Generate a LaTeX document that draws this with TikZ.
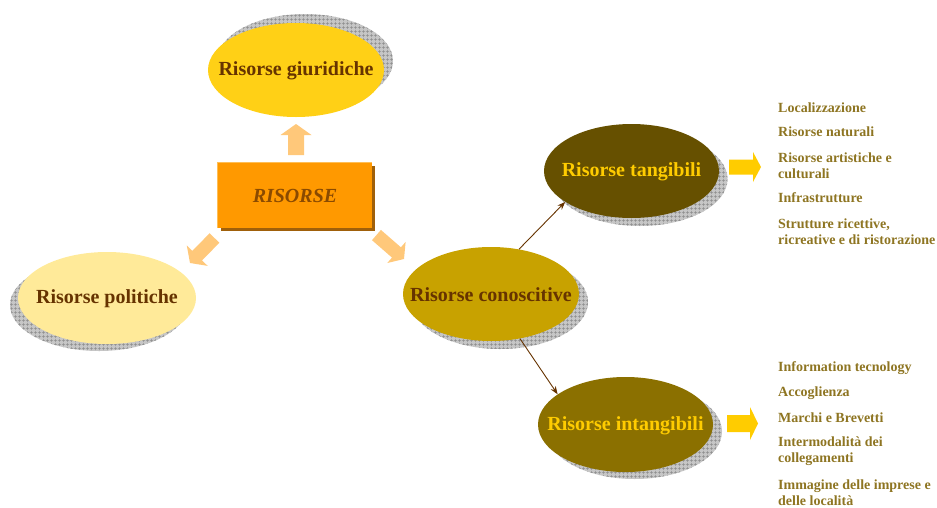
\documentclass[tikz,border=0pt]{standalone}
\usepackage{fontspec}
\setmainfont{Liberation Serif}
\usetikzlibrary{shapes.geometric,patterns.meta,arrows.meta}
\definecolor{giuF}{HTML}{FFD016}
\definecolor{polF}{HTML}{FFEA99}
\definecolor{conF}{HTML}{C8A200}
\definecolor{tanF}{HTML}{665000}
\definecolor{intF}{HTML}{8B7000}
\definecolor{orF}{HTML}{FF9900}
\definecolor{orShadow}{HTML}{A0600A}
\definecolor{orHL}{HTML}{FFBE55}
\definecolor{arrLight}{HTML}{FFC87A}
\definecolor{yel}{HTML}{FFCC00}
\definecolor{txtBrown}{HTML}{663300}
\definecolor{risTxt}{HTML}{8A4A00}
\definecolor{listTxt}{HTML}{8E7522}
\definecolor{shGray}{HTML}{C6C6C6}
\definecolor{gridGray}{HTML}{8C8C8C}
\begin{document}
\begin{tikzpicture}[x=1pt,y=-1pt,
  shad/.style={fill=shGray,postaction={pattern={Hatch[angle=0,distance=4pt,line width=0.6pt]},pattern color=gridGray}},
  ell/.style={ellipse,inner sep=0pt,minimum width=176pt,minimum height=94pt},
  elltxt/.style={font=\bfseries\fontsize{20}{22}\selectfont,inner sep=0pt},
  listitem/.style={anchor=west,inner sep=0pt,align=left,text=listTxt,
    font=\bfseries\fontsize{14}{16}\selectfont},
  conn/.style={draw=txtBrown,line width=0.9pt,-{Stealth[length=8pt,width=6pt]}},
  pics/barrow/.style n args={5}{code={
    \fill[#5] (0,0) -- (-#2,#3) -- (-#2,#4) -- (-#1,#4) -- (-#1,-#4) -- (-#2,-#4) -- (-#2,-#3) -- cycle;}}
]
\useasboundingbox (0,0) rectangle (937,507);

% shadows
\fill[shad] (305,61) ellipse [x radius=88, y radius=47];
\fill[shad] (99,305) ellipse [x radius=89, y radius=46];
\fill[shad] (500,302) ellipse [x radius=88, y radius=47];
\fill[shad] (640,179) ellipse [x radius=87.5, y radius=47];
\fill[shad] (634.5,431.5) ellipse [x radius=87.5, y radius=47.5];

% ellipses
\node[ell,fill=giuF,label={[elltxt,text=txtBrown,yshift=-1pt]center:Risorse giuridiche}] (giu) at (296,70) {};
\node[ell,fill=polF,minimum width=178pt,minimum height=92pt,label={[elltxt,text=txtBrown,yshift=-1pt]center:Risorse politiche}] (pol) at (107,298) {};
\node[ell,fill=conF,label={[elltxt,text=txtBrown,yshift=-1pt]center:Risorse conoscitive}] (con) at (491,294) {};
\node[ell,fill=tanF,minimum width=175pt,label={[elltxt,text=yel,yshift=-1pt]center:Risorse tangibili}] (tan) at (631.5,171) {};
\node[ell,fill=intF,minimum width=175pt,minimum height=95pt,label={[elltxt,text=yel,yshift=-1pt]center:Risorse intangibili}] (int) at (625.5,424.5) {};

% central rectangle
\fill[orShadow] (221,166) rectangle (375,231);
\node[rectangle,fill=orF,inner sep=0pt,minimum width=154pt,minimum height=65pt,
  text=risTxt,font=\bfseries\itshape\fontsize{20}{22}\selectfont] (ris) at (295,195.5) {RISORSE};
\draw[orHL,line width=1.2pt] (ris.south west) -- (ris.north west) -- (ris.north east);

% block arrows
\pic[rotate=90] at (296,124) {barrow={31}{11}{15.5}{8}{arrLight}};
\pic[rotate=225.6] at (190,263) {barrow={35}{10.3}{14.6}{6.8}{arrLight}};
\pic[rotate=-41] at (404,259) {barrow={36.5}{10}{14}{6.8}{arrLight}};
\pic at (761,167) {barrow={32}{8}{15}{7.5}{yel}};
\pic at (758,423.5) {barrow={31}{8}{16.5}{8.5}{yel}};

% connectors
\draw[conn] (con.58) -- (tan.205);
\draw[conn] (con.-57) -- (int.156);

% lists
\node[listitem] (l1) at (778,108) {Localizzazione};
\node[listitem] (l2) at (778,132) {Risorse naturali};
\node[listitem] (l3) at (778,165.5) {Risorse artistiche e\\culturali};
\node[listitem] (l4) at (778,198) {Infrastrutture};
\node[listitem] (l5) at (778,232) {Strutture ricettive,\\ricreative e di ristorazione};

\node[listitem] (m1) at (778,368) {Information tecnology};
\node[listitem] (m2) at (778,393) {Accoglienza};
\node[listitem] (m3) at (778,418) {Marchi e Brevetti};
\node[listitem] (m4) at (778,451) {Intermodalità dei\\collegamenti};
\node[listitem] (m5) at (778,492.5) {Immagine delle imprese e\\delle località};
\end{tikzpicture}
\end{document}
